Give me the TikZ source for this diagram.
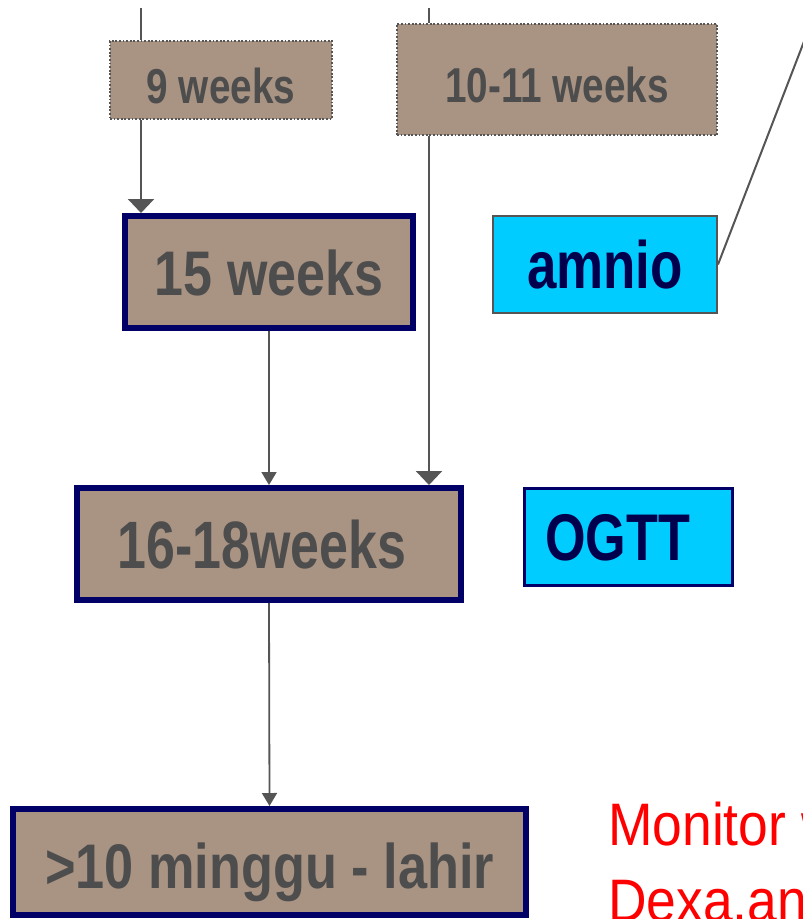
\documentclass[tikz,border=0pt]{standalone}
\usepackage{fontspec}
\setmainfont{Liberation Sans}
\usepackage{graphicx}
\usetikzlibrary{arrows.meta, positioning, calc}
\definecolor{tanfill}{RGB}{169,147,131}
\definecolor{navyline}{RGB}{0,0,102}
\definecolor{navytext}{RGB}{0,0,77}
\definecolor{textgray}{RGB}{77,77,77}
\definecolor{linkgray}{RGB}{85,85,85}
\definecolor{skycyan}{RGB}{0,204,255}
\definecolor{alertred}{RGB}{255,0,0}
\newcommand{\squeeze}[2][0.79]{\scalebox{#1}[1]{#2}}

\begin{document}
\begin{tikzpicture}[x=1pt, y=-1pt,
  stage/.style={draw=navyline, line width=6pt, fill=tanfill, text=textgray, inner sep=0pt, minimum height=112pt, text height=46pt, text depth=0pt},
  early/.style={draw=linkgray, line width=1.8pt, dash pattern=on 1.8pt off 1.8pt, fill=tanfill, text=textgray, inner sep=0pt, text height=46pt, text depth=0pt},
  test/.style={fill=skycyan, text=navytext, inner sep=0pt, minimum height=97pt, text height=47pt, text depth=0pt},
  note/.style={alertred, font=\fontsize{60pt}{76pt}\selectfont, anchor=base west, inner sep=0pt},
  link/.style={draw=linkgray, line width=2.2pt},
  widearrow/.style={link, -{Triangle[width=26pt,length=14pt]}},
  narrowarrow/.style={link, line width=1.8pt, -{Triangle[width=15pt,length=13pt]}}]

  \useasboundingbox (0,0) rectangle (803,919);
  \clip (0,0) rectangle (803,919);

  % early scans (dotted)
  \node[early, minimum width=222pt, minimum height=78pt, font=\fontsize{49pt}{59pt}\selectfont\bfseries] (w9) at (221,80) {\squeeze{9 weeks}};
  \node[early, minimum width=320pt, minimum height=111pt, font=\fontsize{49pt}{59pt}\selectfont\bfseries] (w1011) at (557,79.5) {\squeeze{10-11 weeks}};

  % main stages
  \node[stage, minimum width=288pt, font=\fontsize{63pt}{76pt}\selectfont\bfseries] (w15) at (269,272) {\squeeze[0.825]{15 weeks}};
  \node[stage, minimum width=384pt, text height=48pt, font=\fontsize{67pt}{80pt}\selectfont\bfseries] (w1618) at (269,544) {\squeeze[0.775]{16-18weeks}\kern14pt};
  \node[stage, minimum width=513pt, minimum height=106pt, text height=52pt, font=\fontsize{63pt}{76pt}\selectfont\bfseries] (birth) at (269.5,862) {\squeeze[0.83]{>10 minggu - lahir}};

  % tests
  \node[test, draw=linkgray, line width=2pt, minimum width=224pt, font=\fontsize{67pt}{80pt}\selectfont\bfseries] (amnio) at (605,264.5) {\squeeze{amnio}};
  \node[test, draw=navyline, line width=2.5pt, minimum width=208pt, text height=46pt, font=\fontsize{66pt}{79pt}\selectfont\bfseries] (ogtt) at (628.5,537) {\squeeze{OGTT}\kern22pt};

  % monitoring note
  \node[note] (mon1) at (608,845) {\squeeze[0.89]{Monitor w}};
  \node[note] (mon2) at (608,921) {\squeeze[0.89]{Dexa,an}};

  % connectors
  \coordinate (top9) at (141,8);
  \coordinate (top1011) at (429,8);
  \coordinate (far) at (820,0);

  \draw[link] (top9) -- (top9 |- w9.north);
  \draw[widearrow] (top9 |- w9.south) -- (top9 |- w15.north);
  \draw[link] (top1011) -- (top1011 |- w1011.north);
  \draw[widearrow] (top1011 |- w1011.south) -- (top1011 |- w1618.north);
  \draw[narrowarrow] (w15.south) -- (w1618.north);
  \draw[narrowarrow] (w1618.south) -- (birth.north);
  \draw[link, line width=2pt] (amnio.east) -- (far);
\end{tikzpicture}
\end{document}
